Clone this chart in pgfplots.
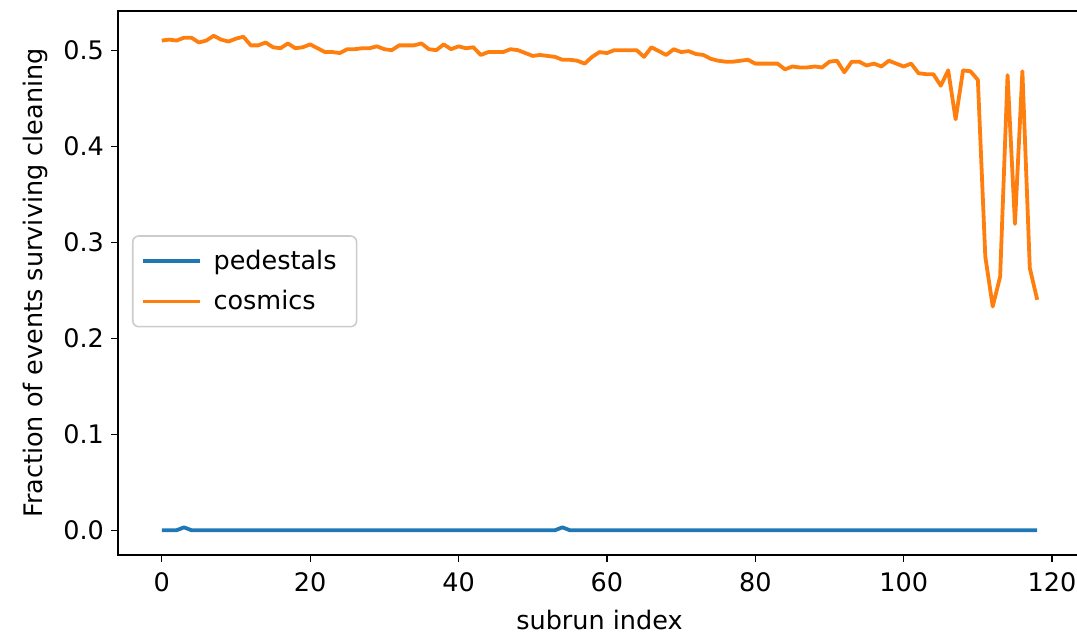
\documentclass[border=0pt]{standalone}
\usepackage{pgfplots}
\usepackage{pgfplotstable}
\usepackage{fontspec}
\setmainfont{DejaVu Sans}
\pgfplotsset{compat=1.18}

\definecolor{mplblue}{HTML}{1F77B4}
\definecolor{mplorange}{HTML}{FF7F0E}

\pgfplotstableread{
idx ped cos
0 0 0.510
1 0 0.511
2 0 0.510
3 0.003 0.513
4 0 0.513
5 0 0.508
6 0 0.510
7 0 0.515
8 0 0.511
9 0 0.509
10 0 0.512
11 0 0.514
12 0 0.505
13 0 0.505
14 0 0.508
15 0 0.503
16 0 0.502
17 0 0.507
18 0 0.502
19 0 0.503
20 0 0.506
21 0 0.502
22 0 0.498
23 0 0.498
24 0 0.497
25 0 0.501
26 0 0.501
27 0 0.502
28 0 0.502
29 0 0.504
30 0 0.501
31 0 0.500
32 0 0.505
33 0 0.505
34 0 0.505
35 0 0.507
36 0 0.501
37 0 0.500
38 0 0.506
39 0 0.501
40 0 0.504
41 0 0.502
42 0 0.503
43 0 0.495
44 0 0.498
45 0 0.498
46 0 0.498
47 0 0.501
48 0 0.500
49 0 0.497
50 0 0.494
51 0 0.495
52 0 0.494
53 0 0.493
54 0.003 0.490
55 0 0.490
56 0 0.489
57 0 0.486
58 0 0.493
59 0 0.498
60 0 0.497
61 0 0.500
62 0 0.500
63 0 0.500
64 0 0.500
65 0 0.493
66 0 0.503
67 0 0.499
68 0 0.495
69 0 0.501
70 0 0.498
71 0 0.499
72 0 0.496
73 0 0.495
74 0 0.491
75 0 0.489
76 0 0.488
77 0 0.488
78 0 0.489
79 0 0.490
80 0 0.486
81 0 0.486
82 0 0.486
83 0 0.486
84 0 0.480
85 0 0.483
86 0 0.482
87 0 0.482
88 0 0.483
89 0 0.482
90 0 0.488
91 0 0.489
92 0 0.477
93 0 0.488
94 0 0.488
95 0 0.484
96 0 0.486
97 0 0.483
98 0 0.489
99 0 0.486
100 0 0.483
101 0 0.486
102 0 0.476
103 0 0.475
104 0 0.475
105 0 0.463
106 0 0.479
107 0 0.428
108 0 0.479
109 0 0.478
110 0 0.469
111 0 0.285
112 0 0.233
113 0 0.264
114 0 0.474
115 0 0.319
116 0 0.478
117 0 0.273
118 0 0.240
}\subruns

\begin{document}
\begin{tikzpicture}
\path[use as bounding box] (-59bp,-41.5bp) rectangle (479.5bp,277.5bp);
\begin{axis}[
  at={(0,0)}, anchor=south west,
  scale only axis,
  width=481.5bp, height=272bp,
  xmin=-5.9, xmax=123.9,
  ymin=-0.0258, ymax=0.5408,
  xtick={0,20,...,120},
  ytick={0,0.1,...,0.5},
  yticklabel style={/pgf/number format/.cd, fixed, fixed zerofill, precision=1},
  /pgf/number format/assume math mode=true,
  tick pos=left,
  tick align=outside,
  major tick length=3.5bp,
  every tick/.style={black, line width=0.6bp},
  axis line style={line width=0.6bp},
  tick label style={font=\fontsize{12.8}{15}\selectfont},
  xticklabel style={yshift=-2bp},
  label style={font=\fontsize{12.8}{15}\selectfont},
  xlabel={subrun index},
  ylabel={Fraction of events surviving cleaning},
  xlabel style={yshift=-2bp},
  ylabel style={yshift=1bp},
  legend style={at={(rel axis cs:0.0145,0.503)}, anchor=west,
    draw=black!20, line width=0.8bp, rounded corners=3bp, fill=white, fill opacity=0.8, text opacity=1,
    font=\fontsize{12.8}{15}\selectfont, inner xsep=4bp, inner ysep=5bp,
    row sep=5bp, nodes={inner xsep=6bp}},
  legend cell align=left,
  legend image code/.code={\draw[#1] (0bp,0bp) -- (28.5bp,0bp);},
]
\addplot[mplblue, line width=1.9bp, line join=round] table[x=idx, y=ped] {\subruns};
\addlegendentry{pedestals}
\addplot[mplorange, line width=1.9bp, line join=round] table[x=idx, y=cos] {\subruns};
\addlegendentry{cosmics}
\end{axis}
\end{tikzpicture}
\end{document}
